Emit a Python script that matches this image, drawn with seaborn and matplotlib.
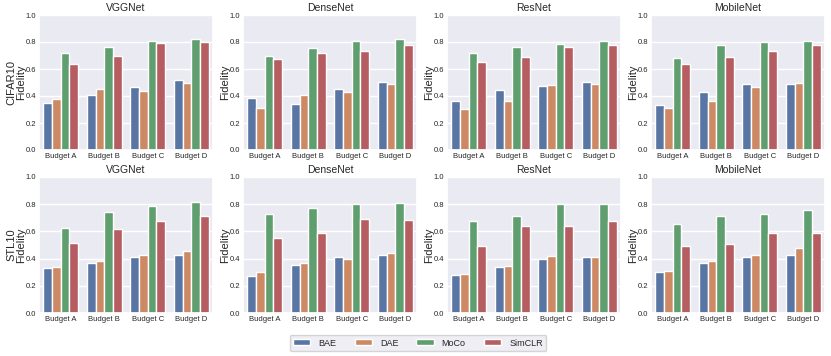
import matplotlib
matplotlib.use("Agg")
import matplotlib.pyplot as plt
import seaborn as sns
import pandas as pd

budgets = ["Budget A", "Budget B", "Budget C", "Budget D"]
methods = ["BAE", "DAE", "MoCo", "SimCLR"]
models = ["VGGNet", "DenseNet", "ResNet", "MobileNet"]
datasets = ["CIFAR10", "STL10"]

# fidelity per method, values over budgets A..D
cifar_vgg = {"BAE": [0.35, 0.41, 0.47, 0.515], "DAE": [0.38, 0.45, 0.44, 0.495],
             "MoCo": [0.72, 0.76, 0.81, 0.82], "SimCLR": [0.635, 0.70, 0.79, 0.80]}
cifar_dense = {"BAE": [0.385, 0.34, 0.45, 0.505], "DAE": [0.31, 0.41, 0.43, 0.49],
               "MoCo": [0.695, 0.755, 0.805, 0.82], "SimCLR": [0.675, 0.715, 0.735, 0.78]}
cifar_res = {"BAE": [0.365, 0.445, 0.475, 0.505], "DAE": [0.305, 0.36, 0.485, 0.49],
             "MoCo": [0.72, 0.765, 0.785, 0.81], "SimCLR": [0.65, 0.69, 0.76, 0.78]}
cifar_mobile = {"BAE": [0.33, 0.43, 0.49, 0.49], "DAE": [0.31, 0.36, 0.465, 0.495],
                "MoCo": [0.68, 0.775, 0.80, 0.81], "SimCLR": [0.635, 0.69, 0.735, 0.78]}

stl_vgg = {"BAE": [0.33, 0.365, 0.415, 0.425], "DAE": [0.335, 0.38, 0.425, 0.455],
           "MoCo": [0.625, 0.745, 0.785, 0.815], "SimCLR": [0.515, 0.62, 0.68, 0.715]}
stl_dense = {"BAE": [0.27, 0.35, 0.415, 0.425], "DAE": [0.305, 0.365, 0.395, 0.44],
             "MoCo": [0.725, 0.77, 0.80, 0.81], "SimCLR": [0.555, 0.59, 0.69, 0.685]}
stl_res = {"BAE": [0.28, 0.34, 0.395, 0.41], "DAE": [0.29, 0.345, 0.42, 0.415],
           "MoCo": [0.68, 0.71, 0.80, 0.80], "SimCLR": [0.49, 0.64, 0.64, 0.68]}
stl_mobile = {"BAE": [0.305, 0.365, 0.415, 0.425], "DAE": [0.31, 0.385, 0.43, 0.48],
              "MoCo": [0.655, 0.71, 0.725, 0.755], "SimCLR": [0.495, 0.505, 0.59, 0.59]}

panels = [[cifar_vgg, cifar_dense, cifar_res, cifar_mobile],
          [stl_vgg, stl_dense, stl_res, stl_mobile]]

sns.set_theme(style="darkgrid", palette="deep")
plt.rcParams['font.family'] = ['Liberation Sans', 'DejaVu Sans']

W, H = 831, 356
fig = plt.figure(figsize=(W / 100, H / 100), dpi=100)

lefts = [39, 243, 447, 651]
rows = [(15, 150), (177, 313)]

for r, (top, bot) in enumerate(rows):
    for c, left in enumerate(lefts):
        ax = fig.add_axes([left / W, 1 - bot / H, 174 / W, (bot - top) / H])
        data = panels[r][c]
        df = pd.DataFrame([(b, m, data[m][i]) for m in methods for i, b in enumerate(budgets)],
                          columns=["budget", "method", "fidelity"])
        sns.barplot(data=df, x="budget", y="fidelity", hue="method", hue_order=methods,
                    order=budgets, ax=ax, edgecolor="white", linewidth=1.0,
                    legend=(r == 0 and c == 0))
        ax.set_ylim(0, 1.0)
        ax.set_yticks([0.0, 0.2, 0.4, 0.6, 0.8, 1.0])
        ax.tick_params(axis="both", labelsize=5.5, length=0, pad=2)
        ax.set_xlabel("")
        ax.set_title(models[c], fontsize=7.5, pad=3)
        label = datasets[r] + "\nFidelity" if c == 0 else "Fidelity"
        ax.set_ylabel(label, fontsize=8, linespacing=1.0)
        ax.yaxis.set_label_coords(-0.074, 0.5)
        if r == 0 and c == 0:
            handles, labels = ax.get_legend_handles_labels()
            ax.get_legend().remove()

fig.legend(handles, labels, loc="center", bbox_to_anchor=(418 / W, 1 - 343 / H), ncol=4,
           fontsize=6.5, handlelength=1.9, handleheight=0.6, columnspacing=2.0,
           handletextpad=0.9, frameon=True, borderpad=0.4)

fig.savefig("out.png", dpi=100)
